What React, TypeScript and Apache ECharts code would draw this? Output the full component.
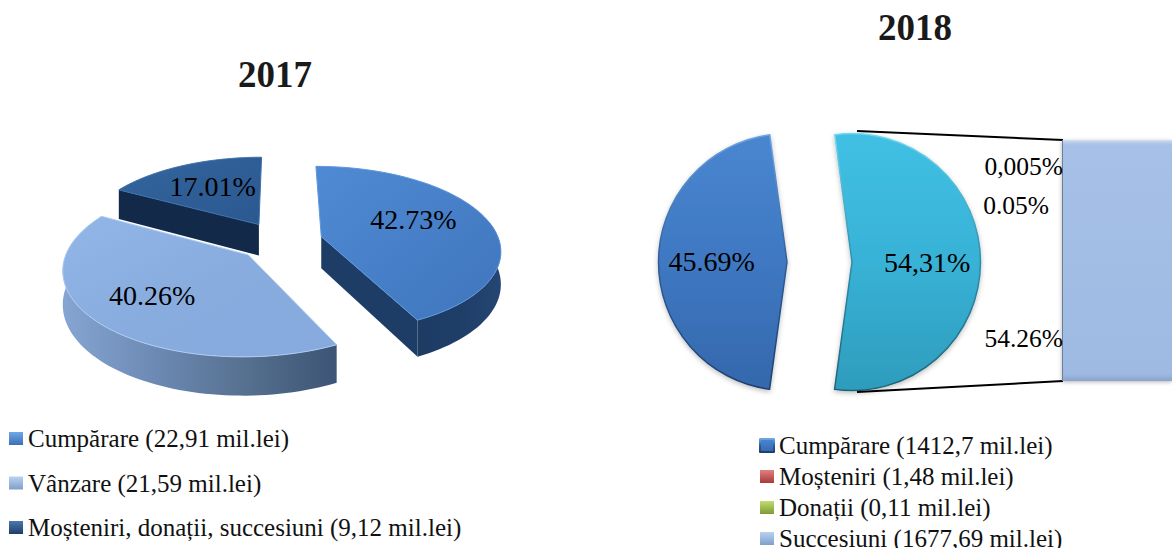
import React, { useEffect, useRef } from "react";
import * as echarts from "echarts";

const FONT = "'Liberation Serif', serif";

const legend2017 = ["Cumpărare (22,91 mil.lei)", "Vânzare (21,59 mil.lei)", "Moșteniri, donații, succesiuni (9,12 mil.lei)"];
const shares2017 = [42.73, 40.26, 17.01];
const labels2017 = ["42.73%", "40.26%", "17.01%"];

const pieNames2018 = ["Cumpărare (1412,7 mil.lei)", "Moșteniri, donații, succesiuni"];
const pieShares2018 = [45.69, 54.31];
const pieLabels2018 = ["45.69%", "54,31%"];

const barNames2018 = ["Succesiuni (1677,69 mil.lei)", "Moșteniri (1,48 mil.lei)", "Donații (0,11 mil.lei)"];
const barShares2018 = [54.26, 0.05, 0.005];
const barLabels2018 = ["54.26%", "0.05%", "0,005%"];
const legend2018 = ["Cumpărare (1412,7 mil.lei)", "Moșteniri (1,48 mil.lei)", "Donații (0,11 mil.lei)", "Succesiuni (1677,69 mil.lei)"];

const lin = (x: number, y: number, x2: number, y2: number, stops: string[]) =>
  new echarts.graphic.LinearGradient(x, y, x2, y2, stops.map((color, i) => ({ offset: i / (stops.length - 1), color })));

// 3D pie projection
const CX = 280, CY = 241, EXPLODE = 0.24, A = 178, B = 82, K = 0.15, DEPTH = 32;
const LABEL_R = [0.55, 0.66, 0.58];
const LABEL_DY = [-7, -2, -2];
const TOP_FILL = [
  () => lin(0, 0, 1, 1, ["#4F8AD4", "#4780C8", "#3F75BC"]),
  () => lin(0, 0, 1, 1, ["#93B6E8", "#89ACDF", "#86AADD"]),
  () => lin(0, 0, 1, 1, ["#35669E", "#2F5E96", "#2C5890"]),
];
const WALL_FILL = [
  () => lin(0, 0, 1, 0, ["#1D3C64", "#1E3E68", "#254672"]),
  () => lin(0, 0, 1, 0, ["#86A5D2", "#6C8AB4", "#56708F", "#3C5475"]),
  () => "#16304F",
];
const CUT_FILL = ["#1E3D66", "#3C5475", "#12294A"];
const RIM = ["#5E97DC", "#AECBF2", "#3C70AA"];
const DRAW_ORDER = [2, 0, 1];

const sliceRender = (idx: number) => (_: any, api: any) => {
  const share = api.value(0);
  const total = shares2017.reduce((s, v) => s + v, 0);
  const before = shares2017.slice(0, idx).reduce((s, v) => s + v, 0);
  const t0 = (before / total) * 2 * Math.PI;
  const t1 = ((before + share) / total) * 2 * Math.PI;
  const mid = (t0 + t1) / 2;
  const ou = EXPLODE * Math.sin(mid);
  const ov = -EXPLODE * Math.cos(mid);
  const world = (U: number, V: number) => {
    const s = 1 / (1 - K * V);
    return [CX + A * U * s, CY + B * V * s, DEPTH * s];
  };
  const proj = (t: number, r = 1) => world(ou + Math.sin(t) * r, ov - Math.cos(t) * r);
  const vertex = world(ou, ov);
  const arc: number[][] = [];
  const frontArc: number[][] = [];
  for (let i = 0; i <= 80; i++) {
    const t = t0 + ((t1 - t0) * i) / 80;
    const p = proj(t);
    arc.push(p);
    if (-Math.cos(t) >= -0.2) frontArc.push(p);
  }
  const top = [[vertex[0], vertex[1]], ...arc.map((p) => [p[0], p[1]])];
  const wall = [...frontArc.map((p) => [p[0], p[1]]), ...frontArc.slice().reverse().map((p) => [p[0], p[1] + p[2]])];
  const cut = (p: number[]) => [[vertex[0], vertex[1]], [p[0], p[1]], [p[0], p[1] + p[2]], [vertex[0], vertex[1] + vertex[2]]];
  const lp = proj(mid, LABEL_R[idx]);
  const faces: any[] = [];
  if (frontArc.length > 1) faces.push({ type: "polygon", shape: { points: wall }, style: { fill: WALL_FILL[idx]() } });
  if (-Math.sin(t0) > 0.01) faces.push({ type: "polygon", shape: { points: cut(arc[0]) }, style: { fill: CUT_FILL[idx] } });
  if (Math.sin(t1) > 0.01) faces.push({ type: "polygon", shape: { points: cut(arc[80]) }, style: { fill: CUT_FILL[idx] } });
  return {
    type: "group",
    children: [
      ...faces,
      { type: "polygon", shape: { points: top }, style: { fill: TOP_FILL[idx](), stroke: RIM[idx], lineWidth: 1 } },
      {
        type: "text",
        style: { text: labels2017[idx], x: lp[0], y: lp[1] + LABEL_DY[idx], align: "center", verticalAlign: "middle", fill: "#000", font: `28px ${FONT}` },
      },
    ],
  };
};

const LEGEND_2017_COLORS = [
  () => lin(0, 0, 0, 1, ["#6FA8E6", "#3A70B5"]),
  () => lin(0, 0, 0, 1, ["#B9D2F0", "#7F9FCB"]),
  () => lin(0, 0, 0, 1, ["#4A78AE", "#1F3E68"]),
];

export default function App() {
  const ref = useRef<HTMLDivElement>(null);
  useEffect(() => {
    const chart = echarts.init(ref.current!, undefined, { renderer: "svg" });
    const textStyle = { fontFamily: FONT, fontSize: 25, color: "#111" };
    const customSeries = DRAW_ORDER.map((idx) => ({
      type: "custom",
      name: legend2017[idx],
      coordinateSystem: "none",
      renderItem: sliceRender(idx),
      data: [[shares2017[idx]]],
      itemStyle: { color: LEGEND_2017_COLORS[idx]() },
      silent: true,
      clip: false,
    }));
    const barMain = new echarts.graphic.LinearGradient(0, 0, 0, 1, [
      { offset: 0, color: "#C9D9F2" },
      { offset: 0.02, color: "#A6C0E7" },
      { offset: 0.97, color: "#9FBAE2" },
      { offset: 1, color: "#8AA3C8" },
    ]);
    const legendIcon: Record<string, any> = {
      [legend2018[1]]: lin(0, 0, 0, 1, ["#E08080", "#A83A38"]),
      [legend2018[2]]: lin(0, 0, 0, 1, ["#C4DC70", "#7E9A38"]),
      [legend2018[3]]: lin(0, 0, 0, 1, ["#B9D2F0", "#7F9FCB"]),
    };
    const labelY = [338, 205, 166];
    const labelRight = [1063, 1049, 1063];
    chart.setOption({
      animation: false,
      backgroundColor: "#fff",
      title: [
        { text: "2017", left: 233, top: 51, textStyle: { fontFamily: FONT, fontWeight: "bold", fontSize: 37, color: "#1a1a1a" } },
        { text: "2018", left: 873, top: 4, textStyle: { fontFamily: FONT, fontWeight: "bold", fontSize: 37, color: "#1a1a1a" } },
      ],
      legend: [
        {
          orient: "vertical", left: 9, top: 426, height: 130, itemWidth: 14, itemHeight: 13, itemGap: 19.5, selectedMode: false,
          icon: "rect", padding: 0, textStyle, data: legend2017,
        },
        {
          orient: "vertical", left: 759, top: 433, height: 160, itemWidth: 14, itemHeight: 13, itemGap: 6, selectedMode: false,
          icon: "rect", padding: 0, textStyle,
          data: legend2018.map((name) => (legendIcon[name] ? { name, itemStyle: { color: legendIcon[name] } } : { name })),
        },
      ],
      grid: { left: 1062, top: 140, width: 220, height: 241, containLabel: false },
      xAxis: { type: "category", show: false, data: ["Alte"] },
      yAxis: { type: "value", show: false, min: 0, max: 54.315 },
      series: [
        ...customSeries,
        {
          type: "pie",
          center: [819.5, 262],
          radius: [0, 128.5],
          startAngle: 262.2,
          selectedMode: "multiple",
          selectedOffset: 32.5,
          legendHoverLink: false,
          silent: true,
          label: {
            show: true,
            position: "inside",
            fontFamily: FONT,
            fontSize: 28,
            color: "#000",
            formatter: (p: any) => pieLabels2018[p.dataIndex],
          },
          labelLine: { show: false },
          labelLayout: (p: any) => ({ dx: p.dataIndex === 0 ? -8 : 8 }),
          data: pieNames2018.map((name, i) => ({
            name,
            value: pieShares2018[i],
            selected: true,
            itemStyle:
              i === 0
                ? {
                    color: lin(0, 0, 0, 1, ["#4A86D0", "#3F78C2", "#3468AC"]),
                    borderColor: lin(0, 0, 0, 1, ["#6FA6E2", "#2E5C96", "#1F3F6E"]),
                    borderWidth: 1.5,
                    shadowBlur: 5,
                    shadowColor: "rgba(0,0,0,0.25)",
                    shadowOffsetY: 2,
                  }
                : {
                    color: lin(0, 0, 0, 1, ["#40C0E4", "#38B2D6", "#2E9CBC"]),
                    borderColor: lin(0, 0, 0, 1, ["#70D8F0", "#2E8CA8", "#1F6478"]),
                    borderWidth: 1.5,
                    shadowBlur: 5,
                    shadowColor: "rgba(0,0,0,0.25)",
                    shadowOffsetY: 2,
                  },
          })),
        },
        ...barNames2018.map((name, i) => ({
          type: "bar",
          name,
          stack: "alte",
          barWidth: "100%",
          silent: true,
          data: [barShares2018[i]],
          itemStyle: {
            color: i === 0 ? barMain : "#C9D9F2",
            ...(i === 0 ? { shadowBlur: 4, shadowColor: "rgba(0,0,0,0.3)", shadowOffsetY: 1 } : {}),
          },
        })),
      ],
      graphic: [
        { type: "line", z: 10, shape: { x1: 857, y1: 131, x2: 1063, y2: 140 }, style: { stroke: "#000", lineWidth: 2 } },
        { type: "line", z: 10, shape: { x1: 857, y1: 392, x2: 1063, y2: 381 }, style: { stroke: "#000", lineWidth: 2 } },
        { type: "line", z: 10, shape: { x1: 1062.5, y1: 140, x2: 1062.5, y2: 381 }, style: { stroke: "#6E7F96", lineWidth: 1 } },
        ...barLabels2018.map((text, i) => ({
          type: "text",
          z: 10,
          style: { text, x: labelRight[i], y: labelY[i], align: "right", verticalAlign: "middle", fill: "#000", font: `25.5px ${FONT}` },
        })),
      ],
    });
    return () => chart.dispose();
  }, []);
  return <div ref={ref} style={{ position: "absolute", left: 0, top: 0, width: 1172, height: 548 }} />;
}
